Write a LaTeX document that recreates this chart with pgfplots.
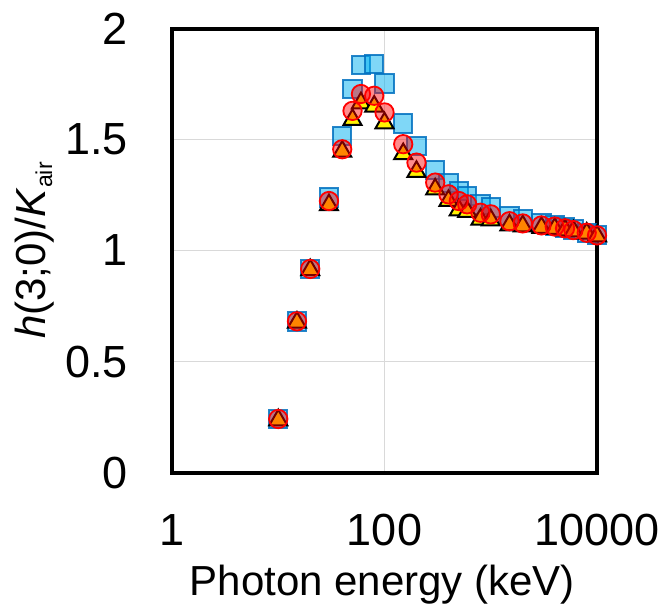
\documentclass[border=0pt]{standalone}
\usepackage{fontspec}
\setmainfont{Liberation Sans}
\usepackage{pgfplots}
\pgfplotsset{compat=1.18}
\definecolor{sqfill}{HTML}{00B0F0}
\definecolor{sqdraw}{HTML}{0070C0}
\definecolor{gridc}{HTML}{D9D9D9}
\begin{document}
\begin{tikzpicture}
\begin{axis}[
  name=ax,
  scale only axis,
  width=212.5pt, height=222pt,
  xmode=log, log basis x=10,
  xmin=1, xmax=10000, ymin=0, ymax=2,
  xtick={1,100,10000}, xticklabels={1,100,10000},
  ytick={0,0.5,1,1.5,2}, yticklabels={0,0.5,1,1.5,2},
  xminorticks=false, yminorticks=false,
  major tick length=0pt,
  grid=major,
  major grid style={draw=gridc, line width=0.75pt},
  axis line style={line width=2pt, black},
  clip=false,
  tick label style={font=\fontsize{22.5}{27}\selectfont},
  xticklabel style={anchor=base, inner sep=0pt, yshift=-36.25pt},
  yticklabel style={anchor=east, inner sep=0pt, xshift=-22pt},
  xlabel={Photon energy (keV)},
  xlabel style={font=\fontsize{21}{25}\selectfont, at={(axis description cs:0.495,0)}, anchor=base, inner sep=0pt, yshift=-61.25pt},
  ylabel={\textit{h}(3;0)/\textit{K}\raisebox{-3.5pt}{\fontsize{11.5}{13}\selectfont air}},
  ylabel style={font=\fontsize{21}{25}\selectfont, at={(axis description cs:-0.2988,0.5)}, anchor=base, inner sep=0pt},
]
% squares
\addplot[only marks, mark=square*, mark size=4.6pt,
  mark options={fill=sqfill, fill opacity=0.5, draw=sqdraw, draw opacity=0.85, line width=1pt}]
coordinates {
(10,0.241) (15,0.681) (20,0.917) (30,1.238) (40,1.516) (50,1.727) (60,1.836)
(80,1.840) (100,1.753) (150,1.572) (200,1.471) (300,1.363) (400,1.303)
(500,1.268) (600,1.245) (800,1.208) (1000,1.193) (1500,1.155) (2000,1.140)
(3000,1.122) (4000,1.113) (5000,1.103) (6000,1.095) (8000,1.080) (10000,1.071)
};
% triangles
\addplot[only marks, mark=triangle*, mark size=5.2pt,
  mark options={fill=yellow, draw=black, line width=1pt}]
coordinates {
(10,0.236) (15,0.676) (20,0.912) (30,1.205) (40,1.446) (50,1.589) (60,1.664)
(80,1.649) (100,1.574) (150,1.435) (200,1.355) (300,1.276) (400,1.224)
(500,1.182) (600,1.175) (800,1.140) (1000,1.137) (1500,1.114) (2000,1.110)
(3000,1.103) (4000,1.098) (5000,1.092) (6000,1.087) (8000,1.077) (10000,1.065)
};
% circles
\addplot[only marks, mark=*, mark size=4.6pt,
  mark options={fill=red, fill opacity=0.45, draw=red, line width=0.9pt}]
coordinates {
(10,0.241) (15,0.681) (20,0.917) (30,1.223) (40,1.456) (50,1.629) (60,1.705)
(80,1.697) (100,1.622) (150,1.479) (200,1.396) (300,1.306) (400,1.253)
(500,1.223) (600,1.208) (800,1.170) (1000,1.163) (1500,1.132) (2000,1.122)
(3000,1.113) (4000,1.108) (5000,1.100) (6000,1.092) (8000,1.080) (10000,1.068)
};
\end{axis}
\pgfresetboundingbox
\path[use as bounding box] ([xshift=-86pt,yshift=-69.25pt]ax.south west) rectangle ([xshift=35pt,yshift=14.25pt]ax.north east);
\end{tikzpicture}
\end{document}
